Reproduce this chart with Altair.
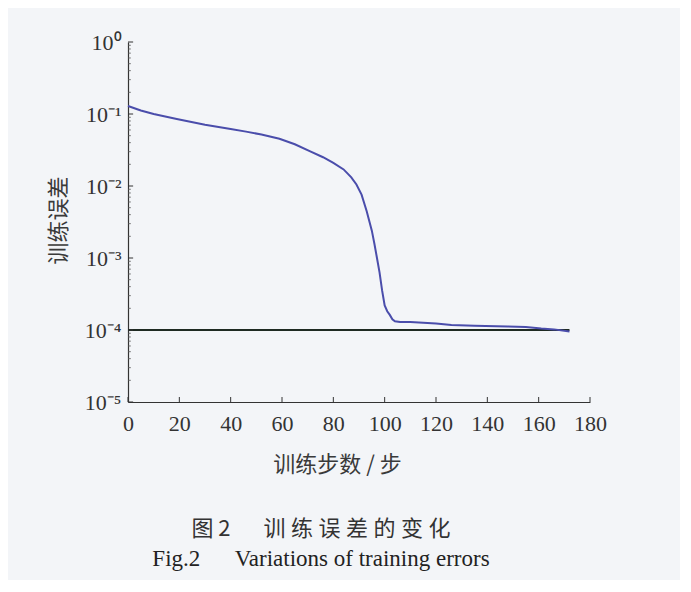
import altair as alt
import pandas as pd

# ---- data ----
steps = [0, 5, 10, 19, 30, 40, 46, 52, 59, 65, 71, 76, 80, 84, 87, 89, 91, 93, 95,
         96, 97, 98, 99, 100, 101, 102, 103, 104, 106, 110, 115, 120, 126, 135, 148,
         155, 161, 166, 172]
errors = [0.129, 0.112, 0.100, 0.0851, 0.0708, 0.0617, 0.0569, 0.0519, 0.0452,
          0.0380, 0.0302, 0.0251, 0.0209, 0.0170, 0.0132, 0.0105, 0.00759, 0.00447,
          0.00240, 0.00158, 0.00100, 0.000631, 0.000355, 0.000219, 0.000182,
          0.000162, 0.000141, 0.000132, 0.000129, 0.000129, 0.000126, 0.000123,
          0.000117, 0.000115, 0.000112, 0.000110, 0.000105, 0.000102, 0.0000955]
goal_steps = [0, 172]
goal_value = 1e-4

x_ticks = [0, 20, 40, 60, 80, 100, 120, 140, 160, 180]
y_ticks = [1, 0.1, 0.01, 0.001, 0.0001, 0.00001]
y_minor = [m * d for d in [1e-5, 1e-4, 1e-3, 1e-2, 1e-1] for m in range(2, 10)]

caption_cn = "图 2\u2003\u2002训\u2005练\u2005误\u2005差\u2005的\u2005变\u2005化"
caption_en = "Fig.2\u2003\u2002Variations of training errors"
x_title = "训练步数 / 步"
y_title = "训练误差"

curve = pd.DataFrame({"step": steps, "err": errors})
goal = pd.DataFrame({"step": goal_steps, "err": [goal_value] * len(goal_steps)})

xscale = alt.Scale(domain=[0, 180], nice=False, zero=False)
yscale = alt.Scale(type="log", domain=[1e-5, 1], nice=False)

label_expr = ("['10⁰','10⁻¹','10⁻²','10⁻³','10⁻⁴','10⁻⁵']"
              "[round(-log(datum.value)/LN10)]")

base_x = alt.X("step:Q", scale=xscale,
               axis=alt.Axis(values=x_ticks, tickSize=0, grid=False, domainColor="#333",
                             domainWidth=1.2, labelFont="Liberation Serif", labelFontSize=22,
                             labelColor="#333", labelPadding=11, labelFlush=False,
                             labelOverlap=False, title=x_title,
                             titleFont="Noto Sans CJK SC", titleFontSize=22,
                             titleFontWeight="normal", titleColor="#3a3a3a",
                             titleX=209, titleY=62, titleBaseline="middle"))
base_y = alt.Y("err:Q", scale=yscale,
               axis=alt.Axis(values=y_ticks, tickSize=0, grid=False, domainColor="#333",
                             domainWidth=1.2, labelExpr=label_expr, labelFlush=False,
                             labelOverlap=False,
                             labelFont="Liberation Serif", labelFontSize=22,
                             labelColor="#333", labelPadding=7, title=y_title,
                             titleFont="Noto Sans CJK SC", titleFontSize=22,
                             titleFontWeight="normal", titleColor="#3a3a3a",
                             titleX=-70, titleY=178, titleBaseline="middle"))

line = alt.Chart(curve).mark_line(color="#4a4dab", strokeWidth=2).encode(x=base_x, y=base_y)
goal_line = alt.Chart(goal).mark_line(color="#1e2a22", strokeWidth=2).encode(
    x=alt.X("step:Q", scale=xscale), y=alt.Y("err:Q", scale=yscale))

# inward ticks
ymaj = pd.DataFrame({"v": y_ticks, "x0": 0, "x1": 2.0})
ymin = pd.DataFrame({"v": y_minor, "x0": 0, "x1": 1.1})
xt = pd.DataFrame({"v": x_ticks, "y0": 1e-5, "y1": 1e-5 * 10 ** (5 / 72)})

ymaj_r = alt.Chart(ymaj).mark_rule(color="#333", strokeWidth=1).encode(
    x=alt.X("x0:Q", scale=xscale), x2="x1:Q", y=alt.Y("v:Q", scale=yscale))
ymin_r = alt.Chart(ymin).mark_rule(color="#555", strokeWidth=0.8).encode(
    x=alt.X("x0:Q", scale=xscale), x2="x1:Q", y=alt.Y("v:Q", scale=yscale))
xt_r = alt.Chart(xt).mark_rule(color="#333", strokeWidth=1).encode(
    x=alt.X("v:Q", scale=xscale), y=alt.Y("y0:Q", scale=yscale), y2="y1:Q")

chart = alt.layer(goal_line, line, ymaj_r, ymin_r, xt_r).properties(
    width=462, height=360,
    autosize=alt.AutoSizeParams(type="none"),
    padding={"left": 120, "top": 34, "right": 90, "bottom": 178},
    background="#f3f5f8",
    title=alt.TitleParams(text=caption_cn, subtitle=caption_en, orient="bottom",
                          anchor="middle", frame="group", dx=-38, offset=44,
                          font="Noto Sans CJK SC", fontSize=22, fontWeight="normal",
                          color="#333", subtitleFont="Liberation Serif",
                          subtitleFontSize=23, subtitleColor="#222",
                          subtitlePadding=7),
).configure_view(stroke=None)

chart.save("out.html", embed_options={"renderer": "svg", "actions": False})
